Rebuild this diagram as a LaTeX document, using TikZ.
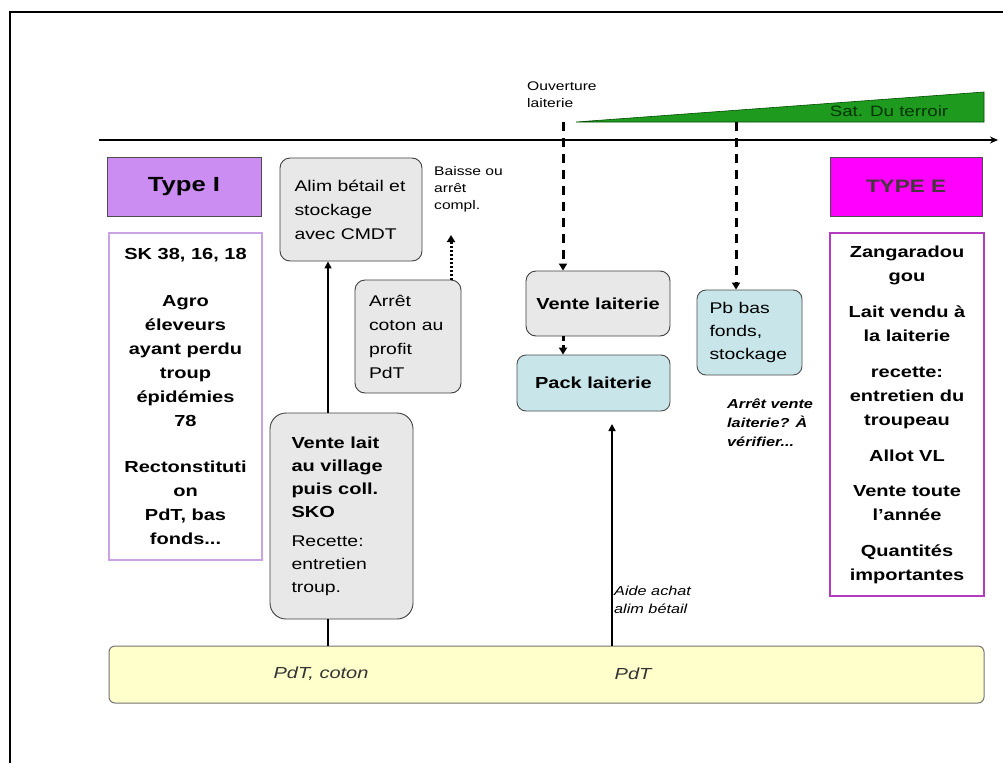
\documentclass[tikz,border=0pt]{standalone}
\usepackage{fontspec}
\setmainfont{Liberation Sans}[FakeStretch=1.25]
\usetikzlibrary{positioning,arrows.meta,calc}

\definecolor{lavender}{HTML}{CC8DF2}
\definecolor{lavline}{HTML}{C9A3E6}
\definecolor{typeEfill}{HTML}{FF00FF}
\definecolor{magline}{HTML}{B43CC0}
\definecolor{boxgrey}{HTML}{E8E8E8}
\definecolor{boxblue}{HTML}{C8E6EA}
\definecolor{baryellow}{HTML}{FFFFCC}
\definecolor{terroir}{HTML}{1E9A1E}

\newcommand{\fsz}[2]{\fontsize{#1}{#2}\selectfont}

\tikzset{
  greybox/.style={draw=black!75, fill=boxgrey, rounded corners=10pt, line width=0.9pt, inner sep=0pt},
  bluebox/.style={draw=black!70, fill=boxblue, rounded corners=9pt, line width=0.9pt, inner sep=0pt},
  typebox/.style={draw=black!70, line width=1pt, font=\fsz{20.5}{22}\bfseries},
  groupbox/.style={fill=white, line width=2.5pt, align=center, font=\fsz{16}{24}\bfseries},
  note/.style={inner sep=0pt, align=left, font=\fsz{12.5}{17}},
  dasharrow/.style={line width=3pt, dash pattern=on 9pt off 7pt, -{Triangle[length=7pt,width=8pt]}},
}

\begin{document}
\begin{tikzpicture}[x=1pt,y=1pt]
  \useasboundingbox (0,0) rectangle (1003,-763);
  \fill[white] (0,0) rectangle (1003,-763);
  \draw[line width=1.2pt] (10,-763) -- (10,-12) -- (1003,-12);

  % time line and saturation wedge
  \coordinate (t0) at (99,-140);
  \coordinate (t1) at (998,-140);
  \draw[line width=1.3pt, -{Stealth[length=8pt,width=7pt]}] (t0) -- (t1);
  \filldraw[fill=terroir, draw=green!30!black, line width=0.6pt]
    (576,-122) -- (984,-92) -- (984,-122) -- cycle;
  \node (sat-label) at (889,-111) {\fsz{15}{17}\color{black!80!green}Sat. Du terroir};
  \node[note, anchor=north west] (ouv-label) at (527,-82) {Ouverture\\laiterie};

  % types
  \node[typebox, fill=lavender, minimum width=154pt, minimum height=59pt] (typeI) at (184,-186.5) {Type I};
  \node[typebox, fill=typeEfill, minimum width=152pt, minimum height=59pt] (typeE) at (906,-186.5) {\fsz{18}{20}\color{black!85!magenta}TYPE E};
  \node[groupbox, draw=lavline, minimum width=153pt, minimum height=327pt] (groupI) at (185.5,-396.5)
    {SK 38, 16, 18\\[23pt] Agro\\éleveurs\\ayant perdu\\troup\\épidémies\\78\\[22pt] Rectonstituti\\on\\PdT, bas\\fonds...};
  \node[groupbox, draw=magline, minimum width=154pt, minimum height=363pt] (groupE) at (907,-414.5)
    {Zangaradou\\gou\\[12pt] Lait vendu à\\la laiterie\\[12pt] recette:\\entretien du\\troupeau\\[12pt] Allot VL\\[11pt] Vente toute\\l’année\\[12pt] Quantités\\importantes};

  % steps
  \node[greybox, minimum width=142pt, minimum height=103pt] (alim) at (351,-209.5)
    {\parbox{113pt}{\fsz{15.5}{24}Alim bétail et\\stockage\\avec CMDT}};
  \node[greybox, minimum width=106pt, minimum height=113pt] (arret) at (408,-336.5)
    {\parbox{78pt}{\fsz{15.5}{24}Arrêt\\coton au\\profit\\PdT}};
  \node[greybox, rounded corners=16pt, minimum width=143pt, minimum height=206pt] (vlait) at (341.5,-516)
    {\parbox{100pt}{\fsz{16}{24}\bfseries Vente lait\\au village\\puis coll.\\SKO\\[6pt]\mdseries\fsz{15.5}{23}Recette:\\entretien\\troup.}};
  \node[greybox, minimum width=144pt, minimum height=65pt, font=\fsz{16}{20}\bfseries] (vlaiterie) at (598,-303.5) {Vente laiterie};
  \node[bluebox, minimum width=153pt, minimum height=56pt, font=\fsz{16}{20}\bfseries] (pack) at (593.5,-383) {Pack laiterie};
  \node[bluebox, minimum width=105pt, minimum height=85pt] (pb) at (749.5,-332.5)
    {\parbox{80pt}{\fsz{15.5}{23}Pb bas\\fonds,\\stockage}};
  \node[rounded corners=6pt, draw=black!55, fill=baryellow, line width=1pt, minimum width=875pt, minimum height=57pt] (bar) at (546.5,-674.5) {};

  % notes
  \node[note, anchor=north west] (baisse-label) at (434,-166) {Baisse ou\\arrêt\\compl.};
  \node[note, anchor=north west, font=\fsz{13}{19}\bfseries\itshape] (verif-label) at (727,-399) {Arrêt vente\\laiterie? À\\vérifier...};
  \node[note, anchor=north west, font=\fsz{13}{18}\itshape] (aide-label) at (614,-586) {Aide achat\\alim bétail};
  \node[font=\fsz{16}{18}\itshape, text=black!80] (pdtc-label) at (321,-674) {PdT, coton};
  \node[font=\fsz{16}{18}\itshape, text=black!80] (pdt-label) at (633,-674) {PdT};

  % connectors
  \coordinate (ouv) at (563,-122);
  \coordinate (satd) at (736,-122);
  \coordinate (baisse) at (451,-235);
  \coordinate (aide) at (612,-424);
  \draw[line width=1.6pt, -{Triangle[length=7pt,width=7pt]}] ([xshift=-13.5pt]vlait.north) -- ([xshift=-13.5pt]vlait.north |- alim.south);
  \draw[line width=1.6pt] ([xshift=-13.5pt]vlait.south) -- ([xshift=-13.5pt]vlait.south |- bar.north);
  \draw[line width=1.6pt, -{Triangle[length=7pt,width=7pt]}] (aide |- bar.north) -- (aide);
  \draw[line width=3pt, dash pattern=on 2pt off 2pt, -{Triangle[length=7pt,width=8pt]}] (baisse |- arret.north) -- (baisse);
  \draw[dasharrow] (ouv) -- (ouv |- vlaiterie.north);
  \draw[dasharrow] (satd) -- (satd |- pb.north);
  \draw[dasharrow, dash pattern=on 5pt off 4pt] (ouv |- vlaiterie.south) -- (ouv |- pack.north);
\end{tikzpicture}
\end{document}
